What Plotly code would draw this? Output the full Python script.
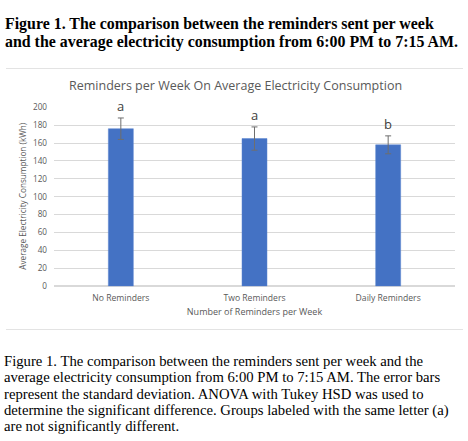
import plotly.graph_objects as go

categories = ["No Reminders", "Two Reminders", "Daily Reminders"]
means = [176, 165, 158]
sds = [12, 13, 10]
letters = ["a", "a", "b"]
y_ticks = list(range(0, 201, 20))

W, H = 468, 441
def px(x): return x / W
def py(y): return 1 - y / H

fig = go.Figure()
fig.add_trace(go.Bar(
    x=categories, y=means, width=0.187,
    marker=dict(color="#4472C4", line=dict(color="#5B84D0", width=0.5)),
    error_y=dict(type="data", array=sds, visible=True, color="#6E6E6E", thickness=1, width=3),
    showlegend=False,
))

for c, m, s, l in zip(categories, means, sds, letters):
    fig.add_annotation(x=c, y=m + s, text=l, showarrow=False, yanchor="bottom", yshift=1,
                       font=dict(family="Open Sans", size=13, color="#404040"))

fig.update_layout(
    width=W, height=H, margin=dict(l=0, r=0, t=0, b=0),
    paper_bgcolor="white", plot_bgcolor="white",
    xaxis=dict(domain=[px(54), px(455)], showline=False, tickfont=dict(family="Open Sans", size=8.6, color="#595959"),
               title=dict(text="Number of Reminders per Week", font=dict(family="Open Sans", size=9, color="#595959"), standoff=5),
               ticks="", ticklabelstandoff=5, fixedrange=True),
    yaxis=dict(domain=[py(287.7), py(103.7)], range=[0, 201], tickvals=y_ticks,
               gridcolor="#D9D9D9", gridwidth=1, zeroline=True, zerolinecolor="#D9D9D9",
               tickfont=dict(family="Open Sans", size=8.2, color="#595959"),
               title=dict(text="Average Electricity Consumption (kWh)", font=dict(family="Open Sans", size=8.2, color="#595959"), standoff=5),
               ticks="", ticklen=0, ticklabelstandoff=6, fixedrange=True),
    font=dict(family="Open Sans"),
)

# Chart title
fig.add_annotation(x=px(235), y=py(82.5), xref="paper", yref="paper", text="Reminders per Week On Average Electricity Consumption",
                   showarrow=False, font=dict(family="Open Sans", size=12.5, color="#595959"), xanchor="center", yanchor="middle")

# Header
fig.add_annotation(x=px(3), y=py(19), xref="paper", yref="paper", xanchor="left", yanchor="middle", showarrow=False,
                   text="<b>Figure 1. The comparison between the reminders sent per week</b>",
                   font=dict(family="Liberation Serif", size=15.9, color="black"))
fig.add_annotation(x=px(3), y=py(38), xref="paper", yref="paper", xanchor="left", yanchor="middle", showarrow=False,
                   text="<b>and the average electricity consumption from 6:00 PM to 7:15 AM.</b>",
                   font=dict(family="Liberation Serif", size=15.9, color="black"))

# Caption
caption = [
    "Figure 1. The comparison between the reminders sent per week and the",
    "average electricity consumption from 6:00 PM to 7:15 AM. The error bars",
    "represent the standard deviation. ANOVA with Tukey HSD was used to",
    "determine the significant difference. Groups labeled with the same letter (a)",
    "are not significantly different.",
]
for i, line in enumerate(caption):
    fig.add_annotation(x=px(2), y=py(364 + i * 16.8), xref="paper", yref="paper", xanchor="left", yanchor="middle",
                       showarrow=False, text=line, font=dict(family="Liberation Serif", size=14.7, color="black"))

# Chart border lines
for yy in (65, 332):
    fig.add_shape(type="line", xref="paper", yref="paper", x0=px(6), x1=px(463), y0=py(yy), y1=py(yy),
                  line=dict(color="#E3E3E3", width=1))

fig.write_html("out.html", config={"displayModeBar": False},
               post_script="document.body.style.margin='0';document.body.style.padding='0';")
